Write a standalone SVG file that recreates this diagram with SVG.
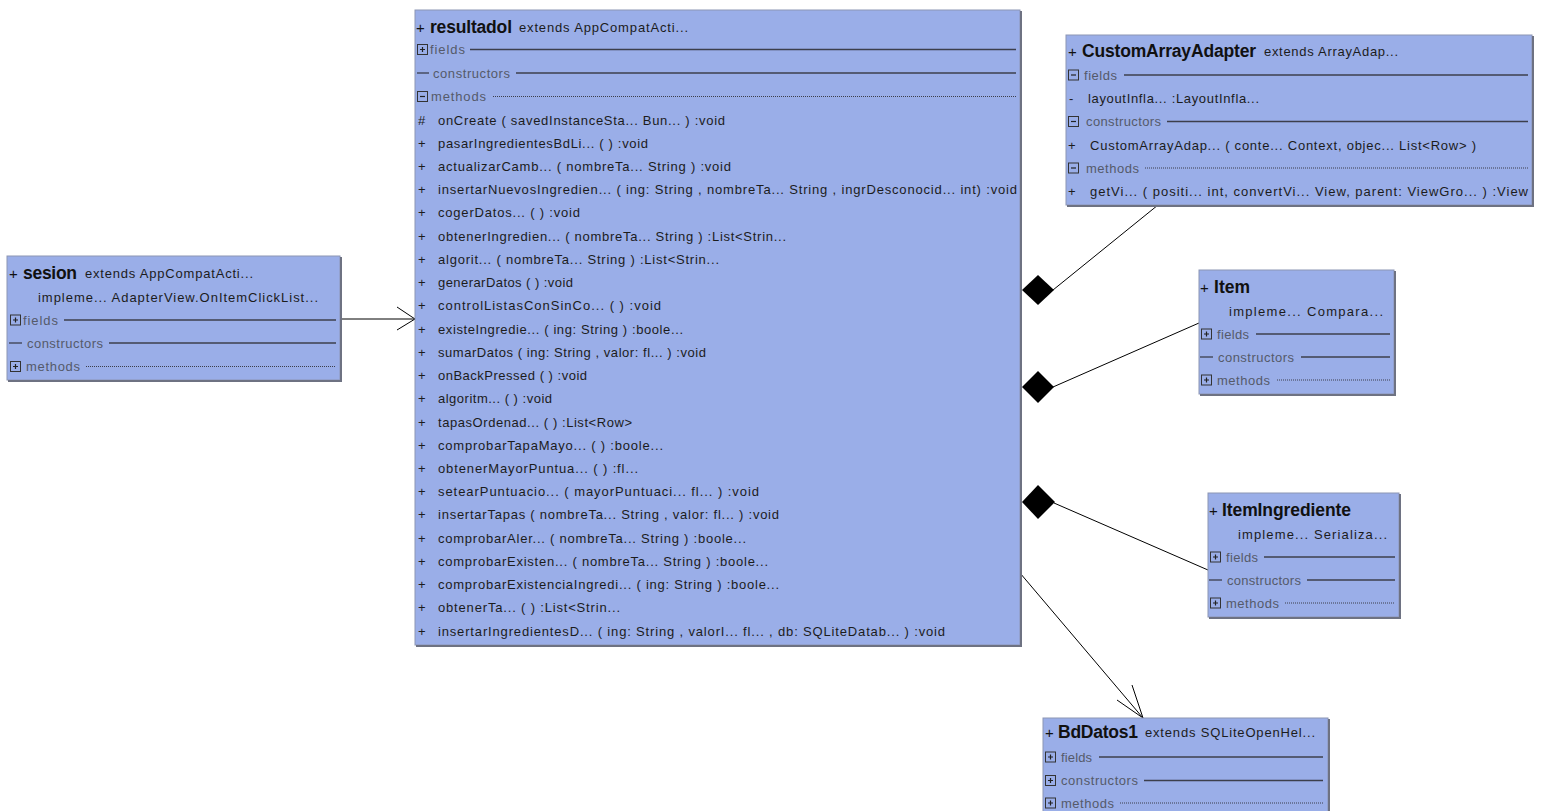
<svg xmlns="http://www.w3.org/2000/svg" xmlns:xlink="http://www.w3.org/1999/xlink" width="1541" height="811" viewBox="0 0 1541 811" xml:space="preserve">
<style>
.box{fill:#9aaee8;stroke:#8c95b4;stroke-width:1}
.sh{stroke:#6e7282;stroke-width:2;fill:none}
.h{font-family:"Liberation Sans",Arial,sans-serif;font-weight:bold;font-size:17.5px;fill:#111}
.p{font-family:"Liberation Sans",Arial,sans-serif;font-size:15px;fill:#111}
.t{font-family:"Liberation Sans",Arial,sans-serif;font-size:13px;fill:#1c1c1c}
.s{font-family:"Liberation Sans",Arial,sans-serif;font-size:13px;fill:#555a6a}
.ln{stroke:#3c3f4c;stroke-width:1.3}
.dt{stroke:#3c3f4c;stroke-width:1;stroke-dasharray:1 1}
.c{stroke:#000;stroke-width:1;fill:none}
.d{fill:#000}
</style>
<defs>
<g id="plus"><rect x="0.5" y="0.5" width="10" height="10" fill="none" stroke="#333" stroke-width="1"/><path d="M3 5.5H8M5.5 3V8" stroke="#222" stroke-width="1.2"/></g>
<g id="minus"><rect x="0.5" y="0.5" width="10" height="10" fill="none" stroke="#333" stroke-width="1"/><path d="M3 5.5H8" stroke="#222" stroke-width="1.2"/></g>
</defs>

<g id="connectors">
<line class="c" x1="340" y1="319" x2="415" y2="319"/>
<polyline class="c" points="397,307 415,319 397,330"/>
<line class="c" x1="1053" y1="290" x2="1158" y2="205"/>
<polygon class="d" points="1022,290 1038,275 1054,290 1038,305"/>
<line class="c" x1="1053" y1="387" x2="1199" y2="323"/>
<polygon class="d" points="1022,387 1038,371 1054,387 1038,403"/>
<line class="c" x1="1054" y1="503" x2="1208" y2="570"/>
<polygon class="d" points="1022,502 1038,485 1055,502 1038,519"/>
<line class="c" x1="1020" y1="573" x2="1143" y2="718"/>
<polyline class="c" points="1132,685 1143,718 1117,700"/>
</g>

<g id="resultadol">
<rect class="box" x="415" y="10" width="605" height="635"/>
<polyline class="sh" points="1021,11 1021,646 416,646"/>
<text class="p" x="416" y="33">+</text>
<text class="h" x="430" y="33" textLength="82">resultadol</text>
<text class="t" x="519" y="32" textLength="169">extends  AppCompatActi...</text>
<use href="#plus" x="417" y="44"/>
<text class="s" x="430" y="54" textLength="35">fields</text>
<line class="ln" x1="470" y1="49.5" x2="1016" y2="49.5"/>
<line class="ln" x1="417" y1="73" x2="429" y2="73"/>
<text class="s" x="433" y="77.5" textLength="77">constructors</text>
<line class="ln" x1="516" y1="73" x2="1016" y2="73"/>
<use href="#minus" x="417" y="91"/>
<text class="s" x="431" y="101" textLength="55">methods</text>
<line class="dt" x1="493" y1="96.5" x2="1016" y2="96.5"/>
<text class="t" x="418" y="124.5">#</text>
<text class="t" x="438" y="124.5" textLength="287">onCreate ( savedInstanceSta...  Bun...  ) :void</text>
<text class="t" x="418" y="147.7">+</text>
<text class="t" x="438" y="147.7" textLength="210">pasarIngredientesBdLi...  ( ) :void</text>
<text class="t" x="418" y="170.9">+</text>
<text class="t" x="438" y="170.9" textLength="293">actualizarCamb...  ( nombreTa...  String ) :void</text>
<text class="t" x="418" y="194.2">+</text>
<text class="t" x="438" y="194.2" textLength="579">insertarNuevosIngredien...  ( ing: String ,  nombreTa...  String ,  ingrDesconocid...  int) :void</text>
<text class="t" x="418" y="217.4">+</text>
<text class="t" x="438" y="217.4" textLength="142">cogerDatos...  ( ) :void</text>
<text class="t" x="418" y="240.6">+</text>
<text class="t" x="438" y="240.6" textLength="348">obtenerIngredien...  ( nombreTa...  String ) :List&lt;Strin...</text>
<text class="t" x="418" y="263.9">+</text>
<text class="t" x="438" y="263.9" textLength="281">algorit...  ( nombreTa...  String ) :List&lt;Strin...</text>
<text class="t" x="418" y="287.1">+</text>
<text class="t" x="438" y="287.1" textLength="135">generarDatos ( ) :void</text>
<text class="t" x="418" y="310.3">+</text>
<text class="t" x="438" y="310.3" textLength="223">controlListasConSinCo...      ( ) :void</text>
<text class="t" x="418" y="333.6">+</text>
<text class="t" x="438" y="333.6" textLength="245">existeIngredie...  ( ing: String ) :boole...</text>
<text class="t" x="418" y="356.8">+</text>
<text class="t" x="438" y="356.8" textLength="268">sumarDatos ( ing: String ,  valor: fl...  ) :void</text>
<text class="t" x="418" y="380">+</text>
<text class="t" x="438" y="380" textLength="149">onBackPressed ( ) :void</text>
<text class="t" x="418" y="403.3">+</text>
<text class="t" x="438" y="403.3" textLength="114">algoritm... ( ) :void</text>
<text class="t" x="418" y="426.5">+</text>
<text class="t" x="438" y="426.5" textLength="194">tapasOrdenad... ( ) :List&lt;Row&gt;</text>
<text class="t" x="418" y="449.7">+</text>
<text class="t" x="438" y="449.7" textLength="225">comprobarTapaMayo...  ( ) :boole...</text>
<text class="t" x="418" y="472.9">+</text>
<text class="t" x="438" y="472.9" textLength="200">obtenerMayorPuntua...    ( ) :fl...</text>
<text class="t" x="418" y="496.2">+</text>
<text class="t" x="438" y="496.2" textLength="321">setearPuntuacio...   ( mayorPuntuaci...  fl...  ) :void</text>
<text class="t" x="418" y="519.4">+</text>
<text class="t" x="438" y="519.4" textLength="341">insertarTapas ( nombreTa...  String ,  valor: fl...  ) :void</text>
<text class="t" x="418" y="542.6">+</text>
<text class="t" x="438" y="542.6" textLength="308">comprobarAler...  ( nombreTa...  String ) :boole...</text>
<text class="t" x="418" y="565.9">+</text>
<text class="t" x="438" y="565.9" textLength="330">comprobarExisten...  ( nombreTa...  String ) :boole...</text>
<text class="t" x="418" y="589.1">+</text>
<text class="t" x="438" y="589.1" textLength="341">comprobarExistenciaIngredi...    ( ing: String ) :boole...</text>
<text class="t" x="418" y="612.3">+</text>
<text class="t" x="438" y="612.3" textLength="182">obtenerTa...   ( ) :List&lt;Strin...</text>
<text class="t" x="418" y="635.6">+</text>
<text class="t" x="438" y="635.6" textLength="507">insertarIngredientesD...  ( ing: String ,  valorI...  fl...  ,  db: SQLiteDatab...  ) :void</text>
</g>

<g id="sesion">
<rect class="box" x="7" y="256" width="333" height="124"/>
<polyline class="sh" points="341,257 341,381 8,381"/>
<text class="p" x="9" y="279">+</text>
<text class="h" x="23" y="279" textLength="54">sesion</text>
<text class="t" x="85" y="278" textLength="168">extends  AppCompatActi...</text>
<text class="t" x="38" y="302" textLength="280">impleme...   AdapterView.OnItemClickList...</text>
<use href="#plus" x="10" y="314.5"/>
<text class="s" x="23" y="324.5" textLength="35">fields</text>
<line class="ln" x1="64" y1="320" x2="336" y2="320"/>
<line class="ln" x1="9" y1="343" x2="22" y2="343"/>
<text class="s" x="27" y="347.5" textLength="76">constructors</text>
<line class="ln" x1="109" y1="343" x2="336" y2="343"/>
<use href="#plus" x="10" y="361"/>
<text class="s" x="26" y="371" textLength="54">methods</text>
<line class="dt" x1="86" y1="366.5" x2="336" y2="366.5"/>
</g>

<g id="CustomArrayAdapter">
<rect class="box" x="1066" y="35" width="466" height="170"/>
<polyline class="sh" points="1533,36 1533,206 1067,206"/>
<text class="p" x="1068" y="57">+</text>
<text class="h" x="1082" y="57" textLength="174">CustomArrayAdapter</text>
<text class="t" x="1264" y="56" textLength="134">extends  ArrayAdap...</text>
<use href="#minus" x="1068" y="69.5"/>
<text class="s" x="1084" y="79.5" textLength="33">fields</text>
<line class="ln" x1="1124" y1="75" x2="1528" y2="75"/>
<text class="t" x="1069" y="103">-</text>
<text class="t" x="1088" y="103" textLength="171">layoutInfla...  :LayoutInfla...</text>
<use href="#minus" x="1068" y="116"/>
<text class="s" x="1086" y="126" textLength="75">constructors</text>
<line class="ln" x1="1167" y1="121.5" x2="1528" y2="121.5"/>
<text class="t" x="1068" y="149.5">+</text>
<text class="t" x="1090" y="149.5" textLength="386">CustomArrayAdap... ( conte... Context,  objec... List&lt;Row&gt; )</text>
<use href="#minus" x="1068" y="162.5"/>
<text class="s" x="1086" y="172.5" textLength="53">methods</text>
<line class="dt" x1="1145" y1="168" x2="1528" y2="168"/>
<text class="t" x="1068" y="196">+</text>
<text class="t" x="1090" y="196" textLength="438">getVi... ( positi...  int,  convertVi...  View,  parent: ViewGro... ) :View</text>
</g>

<g id="Item">
<rect class="box" x="1199" y="270" width="195" height="124"/>
<polyline class="sh" points="1395,271 1395,395 1200,395"/>
<text class="p" x="1200" y="293">+</text>
<text class="h" x="1214" y="293" textLength="36">Item</text>
<text class="t" x="1229" y="316" textLength="154">impleme...   Compara...</text>
<use href="#plus" x="1201" y="328.5"/>
<text class="s" x="1217" y="338.5" textLength="32">fields</text>
<line class="ln" x1="1256" y1="334" x2="1390" y2="334"/>
<line class="ln" x1="1200" y1="357" x2="1213" y2="357"/>
<text class="s" x="1218" y="361.5" textLength="76">constructors</text>
<line class="ln" x1="1301" y1="357" x2="1390" y2="357"/>
<use href="#plus" x="1201" y="374.5"/>
<text class="s" x="1217" y="384.5" textLength="53">methods</text>
<line class="dt" x1="1277" y1="380" x2="1390" y2="380"/>
</g>

<g id="ItemIngrediente">
<rect class="box" x="1208" y="493" width="191" height="124"/>
<polyline class="sh" points="1400,494 1400,618 1209,618"/>
<text class="p" x="1209" y="516">+</text>
<text class="h" x="1222" y="516" textLength="129">ItemIngrediente</text>
<text class="t" x="1238" y="539" textLength="149">impleme...   Serializa...</text>
<use href="#plus" x="1210" y="551.5"/>
<text class="s" x="1226" y="561.5" textLength="32">fields</text>
<line class="ln" x1="1264" y1="557" x2="1395" y2="557"/>
<line class="ln" x1="1209" y1="580" x2="1222" y2="580"/>
<text class="s" x="1227" y="584.5" textLength="74">constructors</text>
<line class="ln" x1="1307" y1="580" x2="1395" y2="580"/>
<use href="#plus" x="1210" y="597.5"/>
<text class="s" x="1226" y="607.5" textLength="53">methods</text>
<line class="dt" x1="1285" y1="603" x2="1395" y2="603"/>
</g>

<g id="BdDatos1">
<rect class="box" x="1043" y="718" width="285" height="110"/>
<polyline class="sh" points="1329,719 1329,830"/>
<text class="p" x="1045" y="738">+</text>
<text class="h" x="1058" y="738" textLength="80">BdDatos1</text>
<text class="t" x="1145" y="737" textLength="170">extends  SQLiteOpenHel...</text>
<use href="#plus" x="1045" y="751.5"/>
<text class="s" x="1061" y="761.5" textLength="31">fields</text>
<line class="ln" x1="1099" y1="757" x2="1323" y2="757"/>
<use href="#plus" x="1045" y="775"/>
<text class="s" x="1061" y="785" textLength="77">constructors</text>
<line class="ln" x1="1144" y1="780.5" x2="1323" y2="780.5"/>
<use href="#plus" x="1045" y="797.5"/>
<text class="s" x="1061" y="807.5" textLength="53">methods</text>
<line class="dt" x1="1120" y1="803" x2="1323" y2="803"/>
</g>
</svg>
